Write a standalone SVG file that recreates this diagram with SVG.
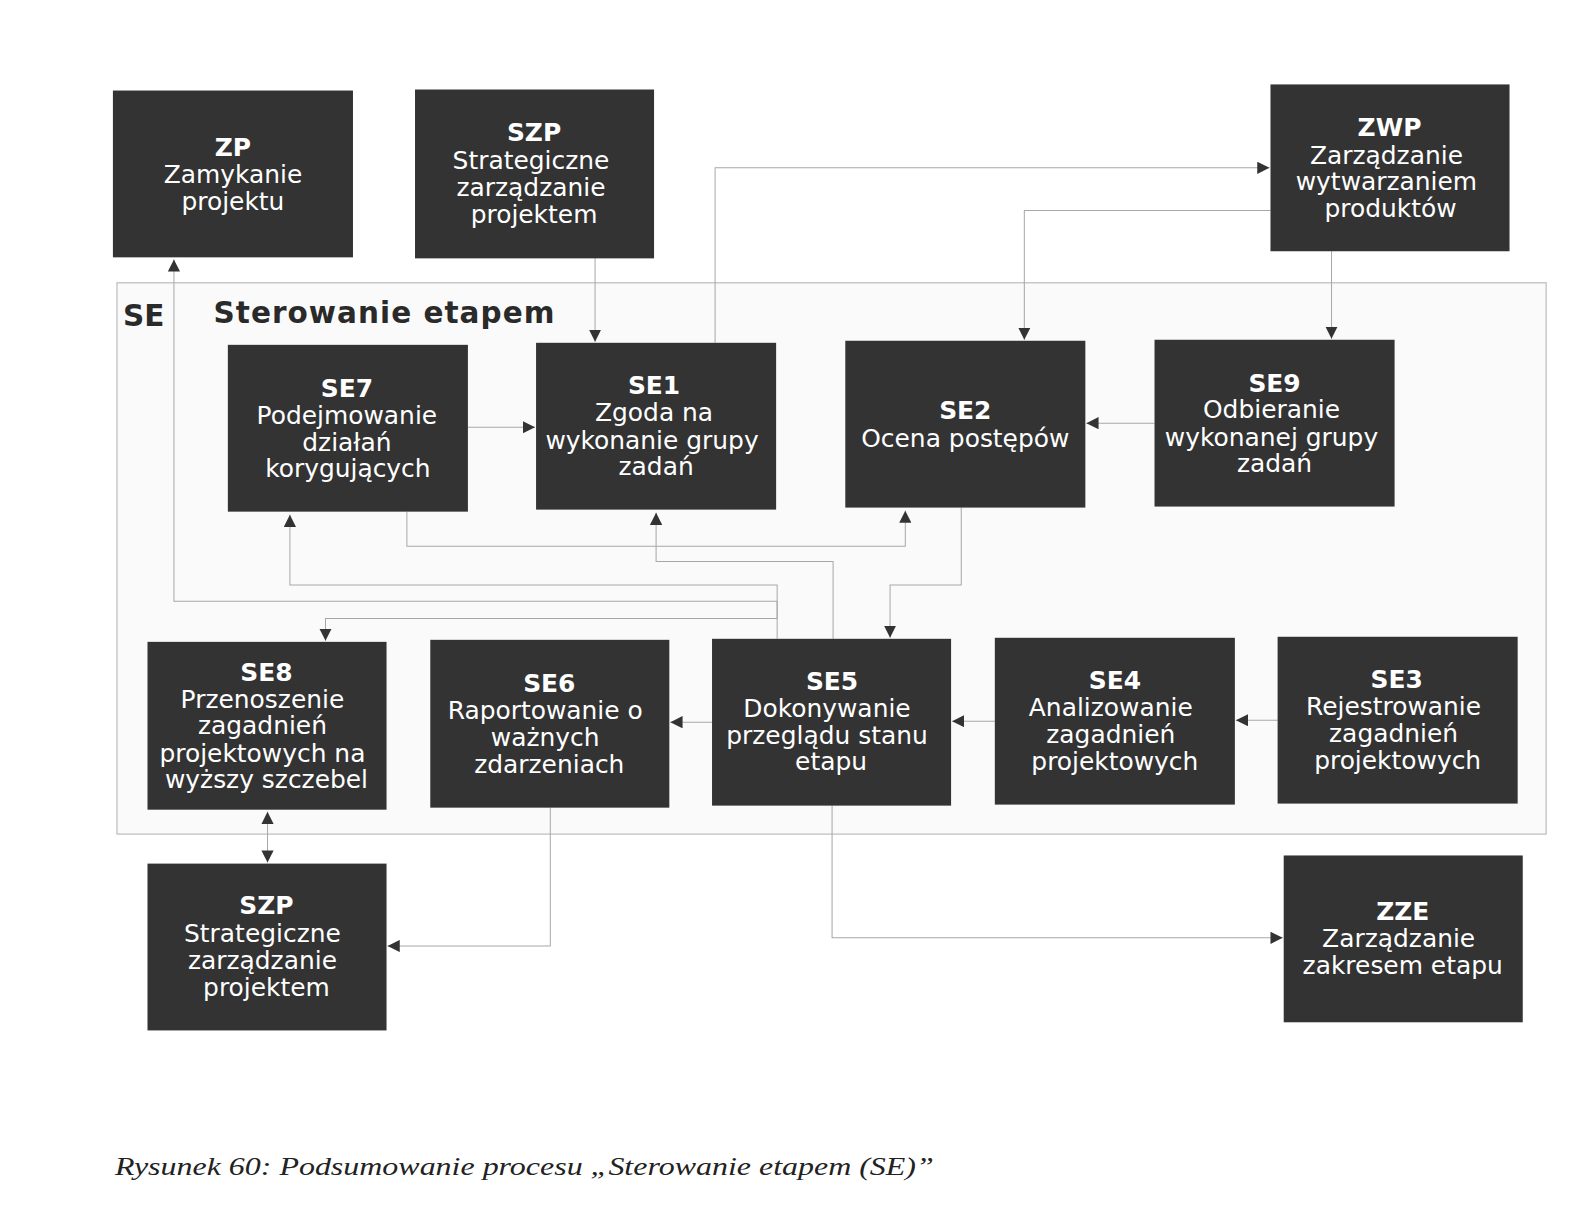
<svg xmlns="http://www.w3.org/2000/svg" width="1595" height="1211" viewBox="0 0 1595 1211">
<style>
.box{fill:#333333;}
.t{font-family:"DejaVu Sans",sans-serif;font-size:24.5px;fill:#ffffff;text-anchor:middle;}
.b{font-weight:bold;}
.c{fill:none;stroke:#a8a8a8;stroke-width:1;marker-end:url(#ah);}
</style>
<defs>
<marker id="ah" markerUnits="userSpaceOnUse" markerWidth="13" markerHeight="12" refX="12" refY="6" orient="auto-start-reverse" viewBox="0 0 13 12">
<path d="M0,0 L12,6 L0,12 z" fill="#333"/>
</marker>
</defs>
<rect width="1595" height="1211" fill="#ffffff"/>
<g transform="scale(1.0172)">
<rect x="115" y="278" width="1405" height="542" fill="#fafafa" stroke="#bdbdbd" stroke-width="1.2"/>
<text x="121" y="320" font-family="DejaVu Sans,sans-serif" font-weight="bold" font-size="29" fill="#2a2a2a">SE</text>
<text x="210" y="318" font-family="DejaVu Sans,sans-serif" font-weight="bold" font-size="29" fill="#2a2a2a" textLength="335">Sterowanie etapem</text>
<g id="connectors">
<path class="c" d="M400 503 V537 H890 V502"/>
<path class="c" d="M819 628 V552 H645 V504"/>
<path class="c" d="M764 628 V575 H285 V506"/>
<path class="c" d="M764 591 H171 V255"/>
<path class="c" d="M764 591 V608 H320 V630"/>
<path class="c" d="M945 499 V575 H875 V627"/>
<path class="c" d="M585 254 V336"/>
<path class="c" d="M703 337 V165 H1248"/>
<path class="c" d="M1249 207 H1007 V334"/>
<path class="c" d="M1309 247 V333"/>
<path class="c" d="M460 420 H526"/>
<path class="c" d="M1135 416 H1068"/>
<path class="c" d="M700 710 H659"/>
<path class="c" d="M978 709 H936"/>
<path class="c" d="M1256 708 H1215"/>
<path class="c" d="M263 798 V848" marker-start="url(#ah)"/>
<path class="c" d="M541 794 V930 H381"/>
<path class="c" d="M818 792 V922 H1261"/>
</g>
<g id="ZP"><rect class="box" x="111" y="89" width="236" height="164"/>
<text class="t b" x="229" y="153">ZP</text><text class="t" x="229" y="180">Zamykanie</text><text class="t" x="229" y="206">projektu</text></g>
<g id="SZP_top"><rect class="box" x="408" y="88" width="235" height="166"/>
<text class="t b" x="525" y="139">SZP</text><text class="t" x="522" y="166">Strategiczne</text><text class="t" x="522" y="193">zarządzanie</text><text class="t" x="525" y="219">projektem</text></g>
<g id="ZWP"><rect class="box" x="1249" y="83" width="235" height="164"/>
<text class="t b" x="1366" y="134">ZWP</text><text class="t" x="1363" y="161">Zarządzanie</text><text class="t" x="1363" y="187">wytwarzaniem</text><text class="t" x="1367" y="213">produktów</text></g>
<g id="SE7"><rect class="box" x="224" y="339" width="236" height="164"/>
<text class="t b" x="341" y="390">SE7</text><text class="t" x="341" y="417">Podejmowanie</text><text class="t" x="341" y="443">działań</text><text class="t" x="342" y="469">korygujących</text></g>
<g id="SE1"><rect class="box" x="527" y="337" width="236" height="164"/>
<text class="t b" x="643" y="387">SE1</text><text class="t" x="643" y="414">Zgoda na</text><text class="t" x="641" y="441">wykonanie grupy</text><text class="t" x="645" y="467">zadań</text></g>
<g id="SE2"><rect class="box" x="831" y="335" width="236" height="164"/>
<text class="t b" x="949" y="412">SE2</text><text class="t" x="949" y="439">Ocena postępów</text></g>
<g id="SE9"><rect class="box" x="1135" y="334" width="236" height="164"/>
<text class="t b" x="1253" y="385">SE9</text><text class="t" x="1250" y="411">Odbieranie</text><text class="t" x="1250" y="438">wykonanej grupy</text><text class="t" x="1253" y="464">zadań</text></g>
<g id="SE8"><rect class="box" x="145" y="631" width="235" height="165"/>
<text class="t b" x="262" y="669">SE8</text><text class="t" x="258" y="696">Przenoszenie</text><text class="t" x="258" y="722">zagadnień</text><text class="t" x="258" y="749">projektowych na</text><text class="t" x="262" y="775">wyższy szczebel</text></g>
<g id="SE6"><rect class="box" x="423" y="629" width="235" height="165"/>
<text class="t b" x="540" y="680">SE6</text><text class="t" x="536" y="707">Raportowanie o</text><text class="t" x="536" y="733">ważnych</text><text class="t" x="540" y="760">zdarzeniach</text></g>
<g id="SE5"><rect class="box" x="700" y="628" width="235" height="164"/>
<text class="t b" x="818" y="678">SE5</text><text class="t" x="813" y="705">Dokonywanie</text><text class="t" x="813" y="731">przeglądu stanu</text><text class="t" x="817" y="757">etapu</text></g>
<g id="SE4"><rect class="box" x="978" y="627" width="236" height="164"/>
<text class="t b" x="1096" y="677">SE4</text><text class="t" x="1092" y="704">Analizowanie</text><text class="t" x="1092" y="730">zagadnień</text><text class="t" x="1096" y="757">projektowych</text></g>
<g id="SE3"><rect class="box" x="1256" y="626" width="236" height="164"/>
<text class="t b" x="1373" y="676">SE3</text><text class="t" x="1370" y="703">Rejestrowanie</text><text class="t" x="1370" y="729">zagadnień</text><text class="t" x="1374" y="756">projektowych</text></g>
<g id="SZP_bottom"><rect class="box" x="145" y="849" width="235" height="164"/>
<text class="t b" x="262" y="899">SZP</text><text class="t" x="258" y="926">Strategiczne</text><text class="t" x="258" y="953">zarządzanie</text><text class="t" x="262" y="979">projektem</text></g>
<g id="ZZE"><rect class="box" x="1262" y="841" width="235" height="164"/>
<text class="t b" x="1379" y="904">ZZE</text><text class="t" x="1375" y="931">Zarządzanie</text><text class="t" x="1379" y="958">zakresem etapu</text></g>
<text x="113" y="1155" font-family="Liberation Serif,serif" font-style="italic" font-size="24" fill="#222" textLength="805" lengthAdjust="spacingAndGlyphs">Rysunek 60: Podsumowanie procesu „Sterowanie etapem (SE)”</text>
</g>
</svg>
